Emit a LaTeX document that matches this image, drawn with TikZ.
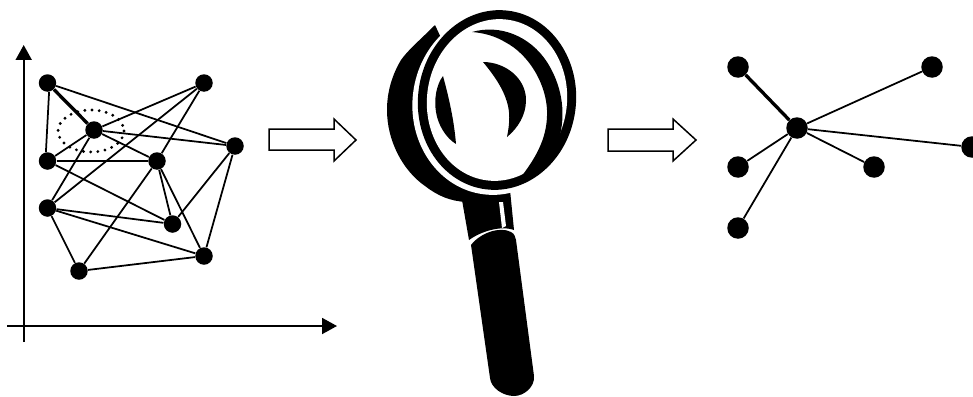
\documentclass[tikz,border=0pt]{standalone}
\usepackage{tikz}
\usetikzlibrary{arrows.meta}

\tikzset{
  dot/.style={circle,fill=black,inner sep=0pt,minimum size=0.35cm},
  bigdot/.style={circle,fill=black,inner sep=0pt,minimum size=0.43cm},
  edge/.style={draw=black,line width=1pt},
  heavyedge/.style={draw=black,line width=1.9pt},
  axis/.style={draw=black,line width=1.1pt,-{Triangle[length=0.3cm,width=0.32cm]}},
  bigarrow/.style={draw=black,line width=0.85pt,fill=white,line join=miter},
  lens/.style={rotate around={-7:(497,100)}}
}

\begin{document}
\begin{tikzpicture}[x=0.02cm,y=-0.02cm]
    \useasboundingbox (0,0) rectangle (973,396);

    % axes
    \coordinate (ylow) at (23.7,342);
    \coordinate (ytop) at (23.7,45);
    \coordinate (xlow) at (7,326);
    \coordinate (xtop) at (337,326);
    \draw[axis] (ylow) -- (ytop);
    \draw[axis] (xlow) -- (xtop);

    % left graph
    \node[dot] (a) at (47.5,83) {};
    \node[dot] (b) at (204,83) {};
    \node[dot] (c) at (94,130) {};
    \node[dot] (d) at (235,146) {};
    \node[dot] (e) at (47.5,161) {};
    \node[dot] (f) at (157,161) {};
    \node[dot] (g) at (47.5,208) {};
    \node[dot] (h) at (172.5,224) {};
    \node[dot] (i) at (204,256) {};
    \node[dot] (j) at (79,271) {};

    \draw[black,line width=1.8pt,line cap=round,dash pattern=on 0pt off 4.1pt] (91,131) ellipse [x radius=33,y radius=21];

    \draw[heavyedge] (a) -- (c);
    \draw[edge] (a.-80) -- (e.100);
    \foreach \from/\to in {a/d,c/b,c/d,c/f,c/e,c/g,e/f,e/h,b/g,b/f,d/h,d/i,f/h,f/i,f/j,g/h,g/i,g/j,j/i}
      \draw[edge] (\from) -- (\to);

    % block arrows
    \draw[bigarrow] (269,129) -- (334,129) -- (334,119) -- (356,140) -- (334,161) -- (334,150) -- (269,150) -- cycle;
    \draw[bigarrow] (608,129) -- (673,129) -- (673,119) -- (696,140) -- (673,161) -- (673,151) -- (608,151) -- cycle;

    % magnifier
    \fill[black] (435,25) .. controls (420,40) and (408,50) .. (401,60)
      .. controls (392,75) and (387,92) .. (387,110)
      .. controls (387,140) and (402,170) .. (425,186)
      .. controls (438,196) and (450,201) .. (466,202)
      -- (510,195) -- (470,100) -- cycle;
    % neck
    \fill[black] (462,200) -- (510,190) -- (514,230) .. controls (500,225) and (480,232) .. (469,240) -- cycle;
    \fill[white] (499,202) -- (503,202) -- (506,226) -- (502,228) -- cycle;
    % grip
    \fill[black] (471,245) .. controls (480,233) and (500,226) .. (511,232)
      .. controls (515,234) and (515,237) .. (516,240)
      -- (534,376) .. controls (535,387) and (524,396) .. (514,396)
      .. controls (503,396) and (491,388) .. (490,378) -- cycle;
    % ring
    \fill[white,rotate around={-7:(495,103)}] (495,103) ellipse [x radius=82.5,y radius=92];
    \fill[black,lens] (497,100) ellipse [x radius=79,y radius=90];
    \fill[white,lens] (497,100) ellipse [x radius=70,y radius=81];
    % reflections
    \fill[black] (472,32) .. controls (500,24) and (530,36) .. (547,62)
      .. controls (561,84) and (566,110) .. (560,135)
      .. controls (554,152) and (540,168) .. (521,177)
      .. controls (538,155) and (548,135) .. (547,110)
      .. controls (546,85) and (530,55) .. (505,42)
      .. controls (495,36) and (484,33) .. (472,32) -- cycle;
    \fill[black] (483,62) .. controls (505,62) and (526,78) .. (526,100)
      .. controls (526,115) and (518,128) .. (507,137)
      .. controls (510,122) and (510,112) .. (507,102)
      .. controls (503,88) and (493,74) .. (483,62) -- cycle;
    \fill[black] (443,76) .. controls (436,85) and (434,100) .. (436,112)
      .. controls (438,125) and (446,138) .. (456,144)
      .. controls (454,120) and (449,98) .. (443,76) -- cycle;

    % right graph
    \node[bigdot] (hub) at (797,128) {};
    \node[bigdot] (p) at (738,67) {};
    \node[bigdot] (q) at (932,67) {};
    \node[bigdot] (r) at (972,147) {};
    \node[bigdot] (s) at (738,167) {};
    \node[bigdot] (t) at (874,167) {};
    \node[bigdot] (u) at (738,228) {};
    \draw[heavyedge] (hub) -- (p);
    \foreach \to in {q,r,s,t,u}
      \draw[edge] (hub) -- (\to);
\end{tikzpicture}
\end{document}
